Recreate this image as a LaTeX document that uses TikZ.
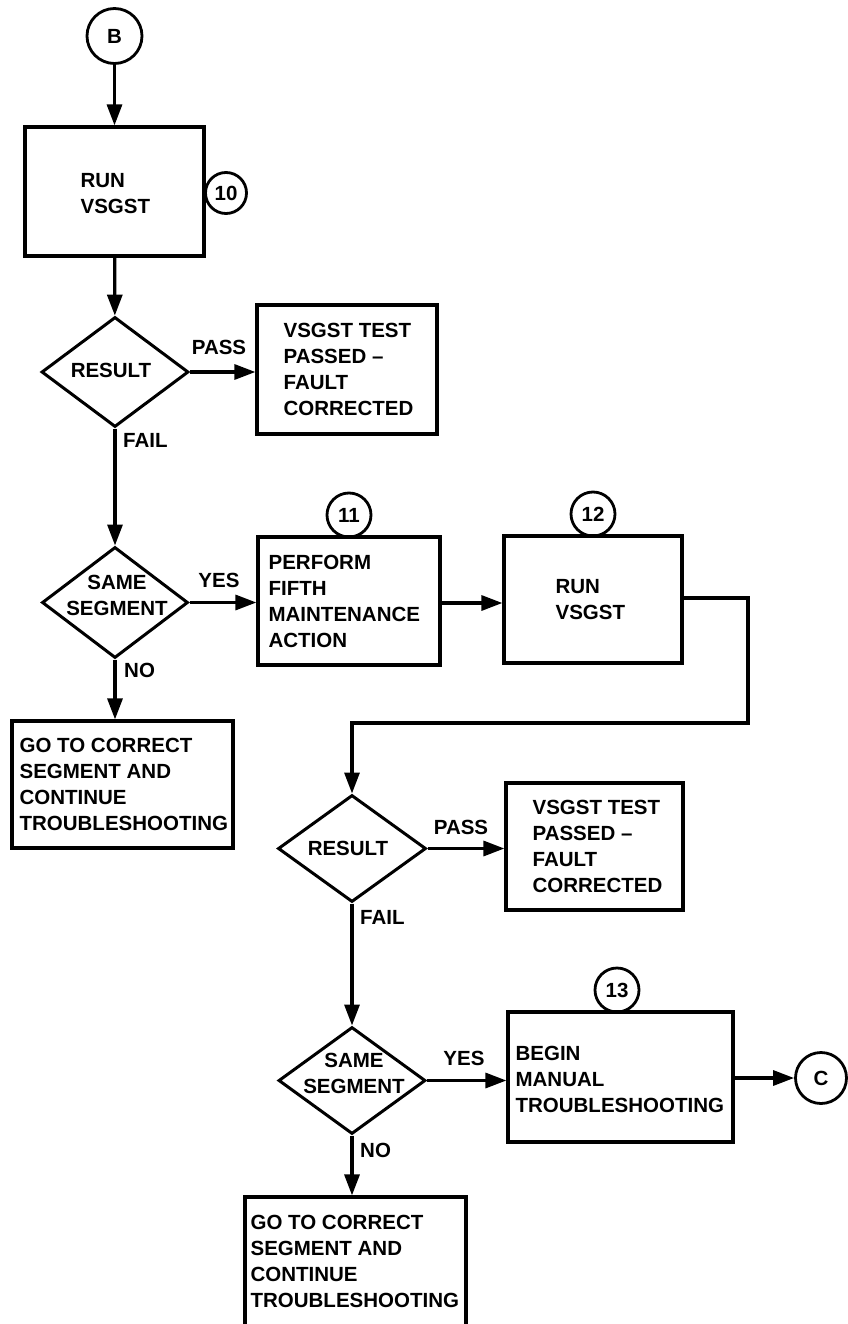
\documentclass[tikz,border=0pt]{standalone}
\usepackage{fontspec}
\setmainfont{Liberation Sans}
\usetikzlibrary{arrows.meta,shapes.geometric}
\begin{document}
\begin{tikzpicture}[x=1pt,y=-1pt,
  lbl/.style={font=\bfseries\fontsize{20.5}{26}\selectfont, inner sep=0pt},
  txt/.style={lbl, align=left, anchor=west},
  box/.style={draw, line width=3.2pt, rectangle, inner sep=0pt},
  dia/.style={draw, line width=3pt, diamond, inner sep=0pt},
  circ/.style={draw, line width=2.8pt, circle, inner sep=0pt, font=\bfseries\fontsize{20.5}{26}\selectfont},
  arr/.style={line width=3.2pt, -{Triangle[length=21pt,width=15pt]}},
  ln/.style={line width=3.2pt}]
\useasboundingbox (0,0) rectangle (847,1324);

% connectors (start/end) circles
\node[circ, minimum size=55] (B) at (114.5,36) {B};
\node[circ, minimum size=51] (C) at (821,1078) {C};

% boxes
\node[box, minimum width=179, minimum height=129] (r1) at (114.5,191.5) {};
\node[box, minimum width=180, minimum height=129] (r2) at (347,369.5) {};
\node[box, minimum width=182, minimum height=128] (r3) at (349,601) {};
\node[box, minimum width=178, minimum height=127] (r4) at (593,599.5) {};
\node[box, minimum width=221, minimum height=127] (r5) at (122.5,784.5) {};
\node[box, minimum width=177, minimum height=127] (r6) at (594.5,846.5) {};
\node[box, minimum width=225, minimum height=130] (r7) at (620.5,1077) {};
\node[box, minimum width=221, minimum height=129] (r8) at (355.5,1261.5) {};

% box texts
\node[txt] (t1) at ([xshift=57pt,yshift=-2pt]r1.west) {RUN\\VSGST};
\node[txt] (t2) at ([xshift=28pt]r2.west) {VSGST TEST\\PASSED --\\FAULT\\CORRECTED};
\node[txt] (t3) at ([xshift=12pt]r3.west) {PERFORM\\FIFTH\\MAINTENANCE\\ACTION};
\node[txt] (t4) at ([xshift=53pt]r4.west) {RUN\\VSGST};
\node[txt] (t5) at ([xshift=9pt]r5.west) {GO TO CORRECT\\SEGMENT AND\\CONTINUE\\TROUBLESHOOTING};
\node[txt] (t6) at ([xshift=28pt]r6.west) {VSGST TEST\\PASSED --\\FAULT\\CORRECTED};
\node[txt] (t7) at ([xshift=9pt,yshift=-2pt]r7.west) {BEGIN\\MANUAL\\TROUBLESHOOTING};
\node[txt] (t8) at ([xshift=7pt]r8.west) {GO TO CORRECT\\SEGMENT AND\\CONTINUE\\TROUBLESHOOTING};

% step numbers
\node[circ, minimum size=41] (c10) at (226,193) {10};
\node[circ, minimum size=44] (c11) at (349,515) {11};
\node[circ, minimum size=44] (c12) at (593,514) {12};
\node[circ, minimum size=44] (c13) at (617,990) {13};

% decisions
\node[dia, minimum width=147, minimum height=110] (d1) at (115,372) {};
\node[dia, minimum width=146, minimum height=111] (d2) at (115,602.5) {};
\node[dia, minimum width=148, minimum height=107] (d3) at (352,848.5) {};
\node[dia, minimum width=147, minimum height=107] (d4) at (352,1080.5) {};

\node[lbl] (dt1) at (111,370) {RESULT};
\node[lbl, align=center] (dt2) at (117,595) {SAME\\SEGMENT};
\node[lbl] (dt3) at (348,848) {RESULT};
\node[lbl, align=center] (dt4) at (354,1073.5) {SAME\\SEGMENT};

% connectors
\draw[arr] (B) -- (r1);
\draw[arr] (r1) -- (d1);
\draw[arr] (d1.east) -- (d1.east -| r2.west);
\draw[arr] (d1.south) -- (d2.north);
\draw[arr] (d2.east) -- (d2.east -| r3.west);
\draw[arr] (d2.south) -- (d2.south |- r5.north);
\draw[arr] ([yshift=-2pt]r3.east) -- ([yshift=-2pt]r3.east -| r4.west);
\coordinate (k1) at (748,598);
\coordinate (k2) at (748,723);
\coordinate (k3) at (352,723);
\draw[arr] (r4.east |- k1) -- (k1) -- (k2) -- (k3) -- (d3.north);
\draw[arr] (d3.east) -- (d3.east -| r6.west);
\draw[arr] (d3.south) -- (d4.north);
\draw[arr] (d4.east) -- (d4.east -| r7.west);
\draw[arr] (d4.south) -- (d4.south |- r8.north);
\draw[arr] (r7.east |- C.west) -- (C.west);

% branch labels
\node[lbl] (p1) at (219,347) {PASS};
\node[lbl, anchor=west] (f1) at (123,440) {FAIL};
\node[lbl] (y1) at (219,580) {YES};
\node[lbl, anchor=west] (n1) at (124,670) {NO};
\node[lbl] (p2) at (461,827) {PASS};
\node[lbl, anchor=west] (f2) at (360,917) {FAIL};
\node[lbl] (y2) at (464,1058) {YES};
\node[lbl, anchor=west] (n2) at (360,1150) {NO};
\end{tikzpicture}
\end{document}
